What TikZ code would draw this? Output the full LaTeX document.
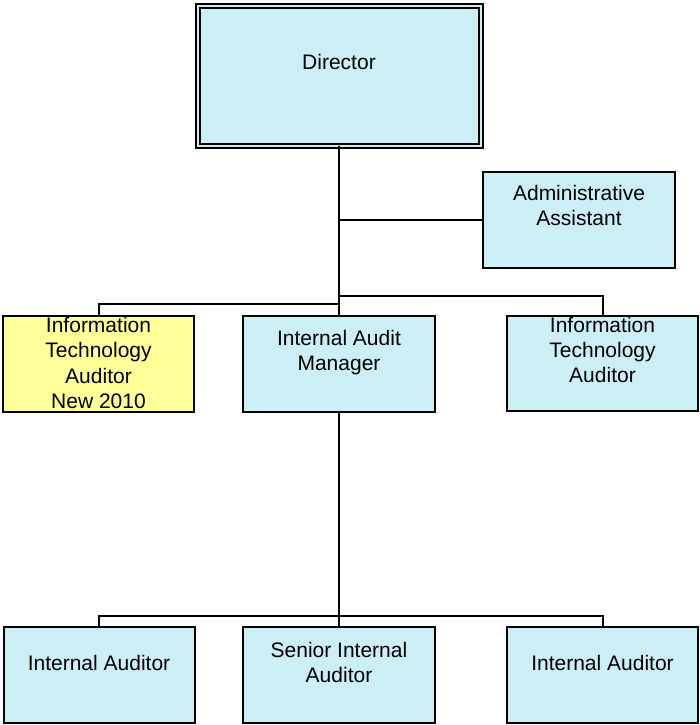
\documentclass[tikz,border=0pt]{standalone}
\usepackage{fontspec}
\setmainfont{Liberation Sans}
\definecolor{boxblue}{RGB}{204,239,245}
\definecolor{boxyellow}{RGB}{255,255,153}
\begin{document}
\begin{tikzpicture}[x=1pt,y=-1pt,
  box/.style={shape=rectangle, draw=black, line width=2pt, fill=boxblue,
    minimum width=192pt, minimum height=96pt, inner sep=0pt, outer sep=0pt},
  lbl/.style={anchor=base, inner sep=0pt, outer sep=0pt, font=\fontsize{21}{25}\selectfont},
  conn/.style={draw=black, line width=2pt}]
\useasboundingbox (0,0) rectangle (699,725);
% boxes
\node[box, double=boxblue, double distance=2pt, line width=2pt,
  minimum width=283pt, minimum height=139pt] (dir) at (339,76) {};
\node[box] (adm) at (579,220) {};
\node[box, fill=boxyellow, minimum width=191pt] (ity) at (98.5,364) {};
\node[box] (iam) at (339,364) {};
\node[box, minimum width=191pt, minimum height=95pt] (itr) at (602.5,363.5) {};
\node[box, minimum width=191pt] (ia1) at (99,675) {};
\node[box] (sia) at (339,675) {};
\node[box, minimum width=191pt] (ia2) at (602.5,675) {};
% connectors
\coordinate (busA) at (339,296);
\coordinate (busL) at (339,304);
\coordinate (busB) at (339,616);
\draw[conn] (dir.south) -- (iam.north);
\draw[conn] (adm.west) -- (adm.west -| dir.south);
\draw[conn] (ity.north) |- (busL);
\draw[conn] (itr.north) |- (busA);
\draw[conn] (iam.south) -- (sia.north);
\draw[conn] (ia1.north) |- (busB) -| (ia2.north);
% labels
\node[lbl] (dirT) at (339,70) {Director};
\node[lbl] (admT1) at (579,200) {Administrative};
\node[lbl] (admT2) at (579,225) {Assistant};
\node[lbl] (ityT1) at (98.5,332) {Information};
\node[lbl] (ityT2) at (98.5,357) {Technology};
\node[lbl] (ityT3) at (98.5,383) {Auditor};
\node[lbl] (ityT4) at (98.5,408) {New 2010};
\node[lbl] (iamT1) at (339,345.5) {Internal Audit};
\node[lbl] (iamT2) at (339,370.5) {Manager};
\node[lbl] (itrT1) at (602.5,332) {Information};
\node[lbl] (itrT2) at (602.5,357) {Technology};
\node[lbl] (itrT3) at (602.5,382.5) {Auditor};
\node[lbl] (ia1T) at (99,670) {Internal Auditor};
\node[lbl] (siaT1) at (339,657.5) {Senior Internal};
\node[lbl] (siaT2) at (339,682.5) {Auditor};
\node[lbl] (ia2T) at (602.5,670) {Internal Auditor};
\end{tikzpicture}
\end{document}
